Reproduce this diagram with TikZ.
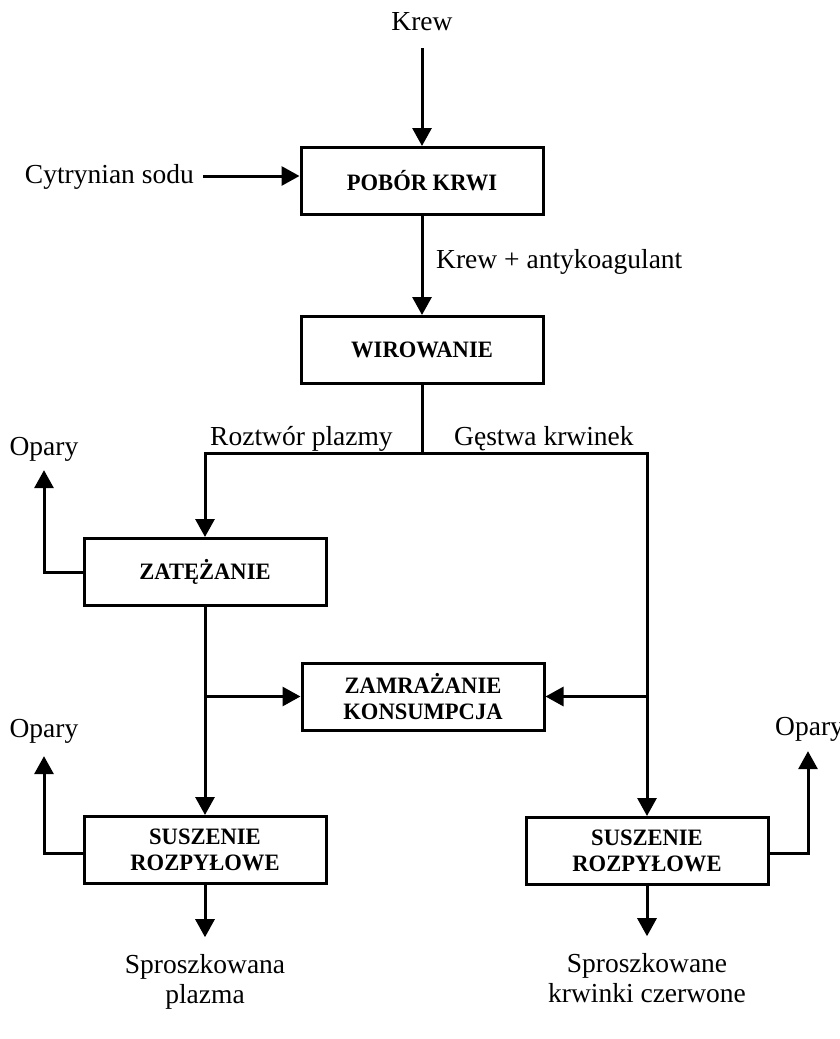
\documentclass[tikz,border=0pt]{standalone}
\usepackage{fontspec}
\setmainfont{Liberation Serif}
\newfontfamily\boxfont[FakeStretch=0.96]{Liberation Serif}
\usetikzlibrary{arrows.meta}
\begin{document}
\begin{tikzpicture}[x=1pt,y=-1pt,
  box/.style={draw,line width=3pt,minimum width=242pt,minimum height=67pt,inner sep=0pt,align=center,font=\boxfont\fontsize{23.5}{26}\selectfont\bfseries},
  lbl/.style={inner sep=0pt,font=\fontsize{27.5}{29.5}\selectfont,align=center},
  flow/.style={line width=3pt,-{Triangle[length=18pt,width=19pt]}},
  conn/.style={line width=3pt}]
\clip (0,0) rectangle (839,1039);
\fill[white] (0,0) rectangle (839,1039);
% boxes
\node[box] (pobor) at (422,181) {POBÓR KRWI};
\node[box] (wir) at (422,350) {WIROWANIE};
\node[box] (zat) at (205,572) {ZATĘŻANIE};
\node[box] (zam) at (423,696.5) {ZAMRAŻANIE\\KONSUMPCJA};
\node[box] (sus1) at (205,850) {SUSZENIE\\ROZPYŁOWE};
\node[box] (sus2) at (647,851) {SUSZENIE\\ROZPYŁOWE};
% labels
\node[lbl,anchor=base] (krew) at (422,30) {Krew};
\node[lbl,anchor=base east] (cytr) at (194,183) {Cytrynian sodu};
\node[lbl,anchor=base west] (anty) at (436,268) {Krew + antykoagulant};
\node[lbl,anchor=base west] (rozt) at (210,445) {Roztwór plazmy};
\node[lbl,anchor=base west] (gest) at (454,445) {Gęstwa krwinek};
\node[lbl,anchor=base] (op1) at (44,455) {Opary};
\node[lbl,anchor=base] (op2) at (44,737) {Opary};
\node[lbl,anchor=base west] (op3) at (775,735) {Opary};
\node[lbl,anchor=base] (out1) at (205,1003) {Sproszkowana\\plazma};
\node[lbl,anchor=base] (out2) at (647,1002) {Sproszkowane\\krwinki czerwone};
\coordinate (j) at (422,453);
% connectors
\draw[flow] ([yshift=-18pt]krew.south) -- (pobor.north);
\draw[flow] ([xshift=9pt,yshift=7pt]cytr.base east) -- ([yshift=7pt]cytr.base east -| pobor.west);
\draw[flow] (pobor.south) -- (wir.north);
\draw[conn] (wir.south) -- (j);
\draw[flow] (j) -| (zat.north);
\draw[flow] (j) -| (sus2.north);
\draw[flow] (zat.south) -- (sus1.north);
\draw[flow] (zat.south |- zam.west) -- (zam.west);
\draw[flow] (sus2.north |- zam.east) -- (zam.east);
\draw[flow] (zat.west) -| ([yshift=-9pt]op1.south);
\draw[flow] ([yshift=-3pt]sus1.west) -| ([yshift=-13pt]op2.south);
\draw[flow] ([yshift=-2pt]sus2.east) -| ([xshift=33pt,yshift=-10pt]op3.south west);
\draw[flow] (sus1.south) -- ([yshift=17pt]out1.north);
\draw[flow] (sus2.south) -- ([yshift=17pt]out2.north);
\end{tikzpicture}
\end{document}
